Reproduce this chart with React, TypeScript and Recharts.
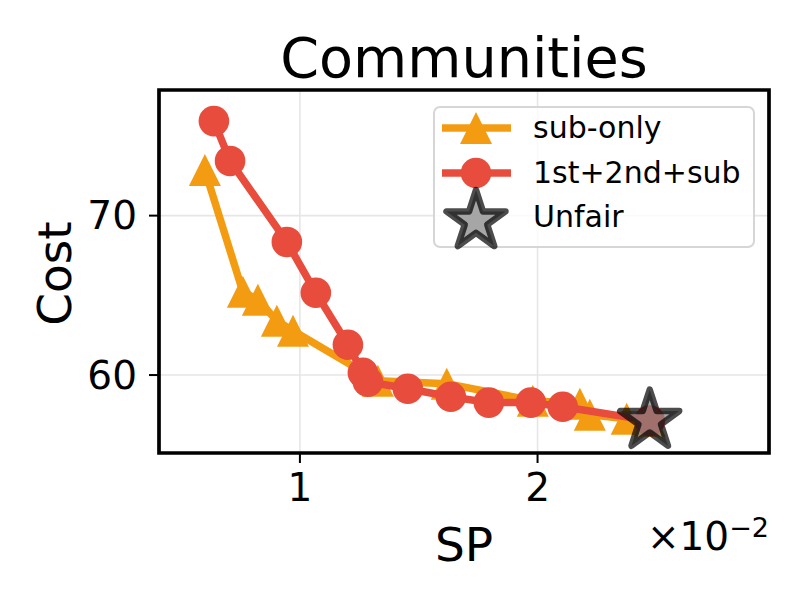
import { ScatterChart, Scatter, XAxis, YAxis, CartesianGrid, ReferenceArea, Legend } from 'recharts';

// ─── Data (SP in units of 1e-2) ─────────────────────────────────────
const subOnlySP = [0.6, 0.76, 0.823, 0.903, 0.971, 1.328, 1.618, 1.98, 2.178, 2.22, 2.375, 2.472];
const subOnlyCost = [72.86, 65.22, 64.72, 63.4, 62.78, 59.64, 59.46, 58.39, 58.2, 57.51, 57.26, 57.14];

const fullSP = [0.638, 0.706, 0.945, 1.067, 1.202, 1.265, 1.286, 1.454, 1.635, 1.795, 1.972, 2.106, 2.472];
const fullCost = [75.93, 73.43, 68.35, 65.16, 61.9, 60.14, 59.58, 59.14, 58.64, 58.27, 58.27, 58.01, 57.14];

const unfairSP = [2.472];
const unfairCost = [57.14];

const xTicks = [1, 2];
const yTicks = [60, 70];
const xDomain: [number, number] = [0.407, 2.974];
const yDomain: [number, number] = [55.11, 77.88];

const legendNames = ['sub-only', '1st+2nd+sub', 'Unfair'];

const ORANGE = '#f39c12';
const RED = '#e74c3c';
const FONT = 'DejaVu Sans';

const zip = (xs: number[], ys: number[]) => xs.map((x, i) => ({ x, y: ys[i] }));

const subOnly = zip(subOnlySP, subOnlyCost);
const full = zip(fullSP, fullCost);
const unfair = zip(unfairSP, unfairCost);

// ─── Marker shapes ──────────────────────────────────────────────────
function triangle(cx: number, cy: number, h = 16) {
  return `${cx},${cy - h} ${cx - h},${cy + h} ${cx + h},${cy + h}`;
}

function star(cx: number, cy: number, R = 31) {
  const r = R * 0.381966;
  const pts: string[] = [];
  for (let i = 0; i < 10; i++) {
    const a = -Math.PI / 2 + (i * Math.PI) / 5;
    const rad = i % 2 === 0 ? R : r;
    pts.push(`${cx + rad * Math.cos(a)},${cy + rad * Math.sin(a)}`);
  }
  return pts.join(' ');
}

const TriangleShape = (p: any) => <polygon points={triangle(p.cx, p.cy)} fill={ORANGE} />;
const CircleShape = (p: any) => <circle cx={p.cx} cy={p.cy} r={15.3} fill={RED} />;
const StarShape = (p: any) => (
  <polygon
    points={star(p.cx, p.cy)}
    fill="#808080"
    fillOpacity={0.7}
    stroke="#000"
    strokeOpacity={0.7}
    strokeWidth={6.5}
    strokeLinejoin="round"
  />
);

// ─── Legend ─────────────────────────────────────────────────────────
function LegendBox() {
  const rows = [
    <g>
      <line x1={9} x2={78} y1={22} y2={22} stroke={ORANGE} strokeWidth={7.5} />
      <polygon points={triangle(43, 22)} fill={ORANGE} />
    </g>,
    <g>
      <line x1={9} x2={78} y1={22} y2={22} stroke={RED} strokeWidth={7.5} />
      <circle cx={43} cy={22} r={15.3} fill={RED} />
    </g>,
    <g>{StarShape({ cx: 43, cy: 26 })}</g>,
  ];
  return (
    <div
      style={{
        position: 'relative',
        width: 322,
        height: 142,
        boxSizing: 'border-box',
        border: '2px solid rgba(204,204,204,0.8)',
        borderRadius: 7,
        background: 'rgba(255,255,255,0.8)',
        fontFamily: FONT,
        fontSize: 30,
      }}
    >
      {legendNames.map((name, i) => (
        <div key={name} style={{ position: 'absolute', left: -2, top: -2 + i * 44.5, height: 44, width: 322 }}>
          <svg width={90} height={64} style={{ position: 'absolute', left: 0, top: 0, overflow: 'visible' }}>
            {rows[i]}
          </svg>
          <span style={{ position: 'absolute', left: 100, top: 0, lineHeight: '44px', color: '#000' }}>{name}</span>
        </div>
      ))}
    </div>
  );
}

// ─── Axis labels ────────────────────────────────────────────────────
function XLabel(props: any) {
  const vb = props.viewBox;
  return (
    <g fontFamily={FONT} fill="#000">
      <text x={vb.x + vb.width / 2} y={vb.y + 108} fontSize={47} textAnchor="middle">
        SP
      </text>
      <text x={vb.x + vb.width} y={vb.y + 97} fontSize={39} textAnchor="end">
        ×10
        <tspan fontSize={27} dy={-13}>
          −2
        </tspan>
      </text>
    </g>
  );
}

function YLabel(props: any) {
  const vb = props.viewBox;
  const x = vb.x + 71;
  const y = vb.y + vb.height / 2 + 2;
  return (
    <text x={x} y={y} fontSize={47} fontFamily={FONT} fill="#000" textAnchor="middle" transform={`rotate(-90, ${x}, ${y})`}>
      Cost
    </text>
  );
}

export default function App() {
  return (
    <div style={{ position: 'absolute', left: 0, top: 0, width: 800, height: 600, background: '#fff' }}>
      <div
        style={{
          position: 'absolute',
          left: 159,
          width: 610,
          top: 30,
          textAlign: 'center',
          fontFamily: FONT,
          fontSize: 55.6,
          lineHeight: '56px',
          color: '#000',
        }}
      >
        Communities
      </div>
      <ScatterChart width={800} height={600} margin={{ top: 90, right: 31, bottom: 0, left: 0 }}>
        <CartesianGrid stroke="#e6e6e6" strokeWidth={1.6} />
        <XAxis
          type="number"
          dataKey="x"
          domain={xDomain}
          ticks={xTicks}
          allowDataOverflow
          height={147}
          axisLine={false}
          tickSize={10}
          tickMargin={10}
          tickLine={{ stroke: '#000', strokeWidth: 2 }}
          tick={{ fontSize: 39, fill: '#000', fontFamily: FONT }}
          label={<XLabel />}
        />
        <YAxis
          type="number"
          dataKey="y"
          domain={yDomain}
          ticks={yTicks}
          allowDataOverflow
          width={159}
          axisLine={false}
          tickSize={10}
          tickMargin={12}
          tickLine={{ stroke: '#000', strokeWidth: 2 }}
          tick={{ fontSize: 39, fill: '#000', fontFamily: FONT }}
          label={<YLabel />}
        />
        <Scatter
          name="sub-only"
          data={subOnly}
          fill={ORANGE}
          line={{ stroke: ORANGE, strokeWidth: 7.5, strokeLinejoin: 'round' }}
          shape={TriangleShape}
          isAnimationActive={false}
        />
        <Scatter
          name="1st+2nd+sub"
          data={full}
          fill={RED}
          line={{ stroke: RED, strokeWidth: 7.5, strokeLinejoin: 'round' }}
          shape={CircleShape}
          isAnimationActive={false}
        />
        <Scatter name="Unfair" data={unfair} fill="#808080" shape={StarShape} isAnimationActive={false} />
        <ReferenceArea
          x1={xDomain[0]}
          x2={xDomain[1]}
          y1={yDomain[0]}
          y2={yDomain[1]}
          fill="none"
          stroke="#000"
          strokeWidth={3.7}
          ifOverflow="visible"
        />
        <Legend
          layout="vertical"
          align="center"
          verticalAlign="middle"
          content={() => <LegendBox />}
          wrapperStyle={{ left: 433, top: 106, width: 322, height: 142 }}
        />
      </ScatterChart>
    </div>
  );
}
